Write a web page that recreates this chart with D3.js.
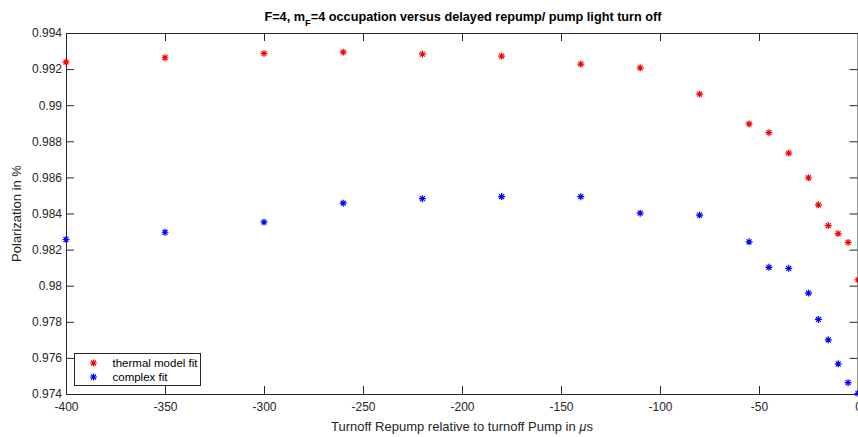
<!DOCTYPE html>
<html>
<head>
<meta charset="utf-8">
<script src="https://cdn.jsdelivr.net/npm/d3@7"></script>
<style>
  body { margin: 0; background: #fff; }
  svg { display: block; font-family: "Liberation Sans", Arial, Helvetica, sans-serif; }
</style>
</head>
<body>
<svg id="chart" width="858" height="437"></svg>
<script>
// delay of repump turn off, in microseconds
var delays = [-400, -350, -300, -260, -220, -180, -140, -110, -80, -55, -45, -35, -25, -20, -15, -10, -5, 0];
var thermalFit = [0.99239, 0.99263, 0.99287, 0.99294, 0.99283, 0.99272, 0.99228, 0.99207, 0.99061,
                  0.98896, 0.98848, 0.98735, 0.98598, 0.98448, 0.98333, 0.98289, 0.98240, 0.98032];
var complexFit = [0.98256, 0.98296, 0.98352, 0.98457, 0.98482, 0.98494, 0.98493, 0.98402, 0.98391,
                  0.98243, 0.98102, 0.98096, 0.97959, 0.97813, 0.97700, 0.97567, 0.97463, 0.97404];
var xTicks = [-400, -350, -300, -250, -200, -150, -100, -50, 0];
var yTicks = [0.974, 0.976, 0.978, 0.98, 0.982, 0.984, 0.986, 0.988, 0.99, 0.992, 0.994];
var seriesNames = ["thermal model fit", "complex fit"];
var seriesColors = ["#ff0000", "#0000ff"];

var width = 858,
    height = 437,
    margins = {left: 66, right: 0, top: 33, bottom: 43},
    axisColor = "#262626";

var svg = d3.select("#chart");
var innerW = width - margins.left - margins.right,
    innerH = height - margins.top - margins.bottom;

var xScale = d3.scaleLinear().domain([-400, 0]).range([0, innerW]);
var yScale = d3.scaleLinear().domain([0.974, 0.994]).range([innerH, 0]);

var g = svg.append("g")
    .attr("transform", "translate(" + margins.left + "," + margins.top + ")");

// matlab style '*' marker: plus and cross together
function star(r) {
    var d = r * 0.7071;
    return "M" + (-r) + ",0L" + r + ",0M0," + (-r) + "L0," + r +
        "M" + (-d) + "," + (-d) + "L" + d + "," + d +
        "M" + (-d) + "," + d + "L" + d + "," + (-d);
}

function styleAxis(sel) {
    sel.select(".domain").attr("stroke", axisColor).attr("stroke-width", 1);
    sel.selectAll(".tick line").attr("stroke", axisColor).attr("stroke-width", 1);
    sel.selectAll(".tick text")
        .style("fill", axisColor)
        .style("font-size", "12px")
        .style("font-family", "\"Liberation Sans\", Arial, sans-serif");
}

g.append("g")
    .attr("transform", "translate(0," + innerH + ")")
    .call(d3.axisBottom(xScale).tickValues(xTicks).tickSize(-8).tickSizeOuter(0).tickPadding(8)
        .tickFormat(d => String(d)))
    .call(styleAxis);

g.append("g")
    .call(d3.axisTop(xScale).tickValues(xTicks).tickSize(-8).tickSizeOuter(0).tickFormat(""))
    .call(styleAxis);

g.append("g")
    .call(d3.axisLeft(yScale).tickValues(yTicks).tickSize(-8).tickSizeOuter(0).tickPadding(4)
        .tickFormat(d => String(+d.toFixed(3))))
    .call(styleAxis);

g.append("g")
    .attr("transform", "translate(" + (innerW - 0.5) + ",0)")
    .call(d3.axisRight(yScale).tickValues(yTicks).tickSize(-8).tickSizeOuter(0).tickFormat(""))
    .call(styleAxis);

// data points
[thermalFit, complexFit].forEach(function(vals, i) {
    g.append("g").selectAll("path")
        .data(vals)
        .enter().append("path")
        .attr("transform", (d, j) => "translate(" + xScale(delays[j]) + "," + yScale(d) + ")")
        .attr("d", star(3.5))
        .attr("fill", "none")
        .attr("stroke", seriesColors[i])
        .attr("stroke-width", 1.2);
});

// title
var title = svg.append("text")
    .attr("x", 463)
    .attr("y", 21)
    .attr("text-anchor", "middle")
    .attr("font-weight", "bold")
    .attr("font-size", "12.7px")
    .attr("fill", "#000");
title.append("tspan").text("F=4, m");
title.append("tspan").attr("font-size", "9.5px").attr("dy", 5).text("F");
title.append("tspan").attr("dy", -5).text("=4 occupation versus delayed repump/ pump light turn off");

// axis labels
var xLab = svg.append("text")
    .attr("x", margins.left + innerW / 2)
    .attr("y", 431)
    .attr("text-anchor", "middle")
    .attr("font-size", "13px")
    .attr("fill", axisColor);
xLab.append("tspan").text("Turnoff Repump relative to turnoff Pump in ");
xLab.append("tspan").attr("font-style", "italic").text("\u03bc");
xLab.append("tspan").text("s");

svg.append("text")
    .attr("transform", "translate(21," + (margins.top + innerH / 2) + ") rotate(-90)")
    .attr("text-anchor", "middle")
    .attr("font-size", "13px")
    .attr("fill", axisColor)
    .text("Polarization in %");

// legend
var legend = svg.append("g").attr("transform", "translate(74.5,353.5)");
legend.append("rect")
    .attr("width", 126)
    .attr("height", 32)
    .attr("fill", "#fff")
    .attr("stroke", axisColor)
    .attr("stroke-width", 1);
seriesNames.forEach(function(name, i) {
    legend.append("path")
        .attr("transform", "translate(19," + (9.5 + i * 14) + ")")
        .attr("d", star(3.5))
        .attr("fill", "none")
        .attr("stroke", seriesColors[i])
        .attr("stroke-width", 1.2);
    legend.append("text")
        .attr("x", 38)
        .attr("y", 13.5 + i * 14)
        .attr("font-size", "11.5px")
        .attr("fill", "#000")
        .text(name);
});
</script>
</body>
</html>
